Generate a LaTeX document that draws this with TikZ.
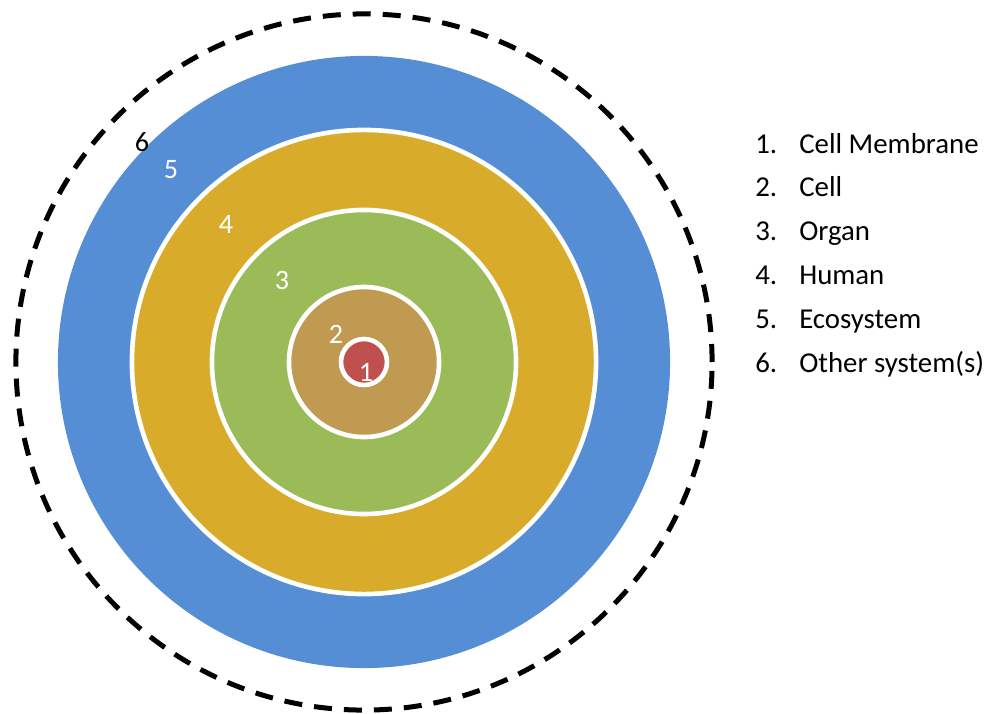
\documentclass[tikz,border=0pt]{standalone}
\usepackage{fontspec}
\setmainfont{Carlito}
\usepackage{xcolor}
\usetikzlibrary{positioning}

\definecolor{ecoblue}{RGB}{85,142,213}
\definecolor{humangold}{RGB}{216,172,42}
\definecolor{organgreen}{RGB}{155,187,89}
\definecolor{cellbrown}{RGB}{192,154,80}
\definecolor{membred}{RGB}{192,80,77}

\begin{document}
\begin{tikzpicture}[
    x=0.025cm, y=0.025cm,
    ring/.style={circle, draw=white, line width=0.115cm, inner sep=0pt},
    num/.style={font=\fontsize{20}{24}\selectfont, text=white, inner sep=0pt},
    legend/.style={anchor=base west, font=\fontsize{20.5}{24}\selectfont, inner sep=0pt},
  ]
  \useasboundingbox (0,0) rectangle (992,713);

  \coordinate (c) at (364,351);

  % nested systems, outermost first
  \node[circle, draw, line width=0.125cm, dash pattern=on 0.45cm off 0.3cm,
        minimum size=17.4cm, inner sep=0pt] (other) at (c) {};
  \node[ring, draw=none, fill=ecoblue,   minimum size=15.3cm] (eco)   at (c) {};
  \node[ring, fill=humangold,            minimum size=11.6cm] (human) at (c) {};
  \node[ring, fill=organgreen,           minimum size=7.6cm]  (organ) at (c) {};
  \node[ring, fill=cellbrown,            minimum size=3.75cm] (cell)  at (c) {};
  \node[ring, fill=membred,              minimum size=1.15cm] (memb)  at (c) {};

  % level numbers
  \node[num, text=black] (n6) at (142,571) {6};
  \node[num] (n5) at (171,543) {5};
  \node[num] (n4) at (226,489) {4};
  \node[num] (n3) at (282,433) {3};
  \node[num] (n2) at (336,379) {2};
  \node[num] (n1) at (366,341) {1};

  % legend
  \node[legend] (l1) at (755,559) {1.};
  \node[legend] (t1) at (799,559) {Cell Membrane};
  \node[legend] (l2) at (755,516) {2.};
  \node[legend] (t2) at (799,516) {Cell};
  \node[legend] (l3) at (755,473) {3.};
  \node[legend] (t3) at (799,473) {Organ};
  \node[legend] (l4) at (755,429) {4.};
  \node[legend] (t4) at (799,429) {Human};
  \node[legend] (l5) at (755,385) {5.};
  \node[legend] (t5) at (799,385) {Ecosystem};
  \node[legend] (l6) at (755,341) {6.};
  \node[legend] (t6) at (799,341) {Other system(s)};

\end{tikzpicture}
\end{document}
